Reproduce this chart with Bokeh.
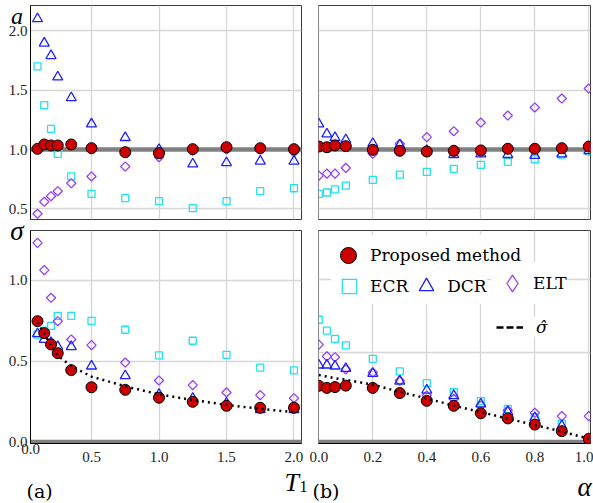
import math
from bokeh.plotting import figure
from bokeh.models import (Range1d, FixedTicker, Span, Label, Legend, LegendItem,
                          NumeralTickFormatter, GridBox)
from bokeh.embed import file_html
from bokeh.resources import INLINE
from bokeh.core.properties import value

# ---------------- data ----------------
T1 = [0.1, 0.15, 0.2, 0.25, 0.35, 0.5, 0.75, 1.0, 1.25, 1.5, 1.75, 2.0]
ALPHA = [0.0, 0.03, 0.06, 0.1, 0.2, 0.3, 0.4, 0.5, 0.6, 0.7, 0.8, 0.9, 1.0]

# (a) top: estimate of a vs T1
a_T_prop = [1.006, 1.042, 1.034, 1.034, 1.042, 1.011, 0.977, 0.969, 1.003, 1.019, 1.011, 1.003]
a_T_ecr = [1.699, 1.373, 1.174, 0.964, 0.773, 0.627, 0.590, 0.565, 0.506, 0.565, 0.649, 0.674]
a_T_dcr = [2.100, 1.895, 1.790, 1.610, 1.435, 1.215, 1.100, 1.000, 0.878, 0.888, 0.902, 0.902]
a_T_elt = [0.459, 0.560, 0.607, 0.649, 0.716, 0.773, 0.857, 0.935, 0.990, 1.000, 1.000, 0.977]

# (b) top: estimate of a vs alpha
a_A_prop = [1.025, 1.019, 1.034, 1.028, 0.997, 0.989, 0.983, 0.989, 0.992, 1.006, 1.006, 1.011, 1.025]
a_A_ecr = [0.627, 0.638, 0.664, 0.696, 0.745, 0.788, 0.812, 0.837, 0.871, 0.896, 0.918, 0.958, 0.985]
a_A_dcr = [1.215, 1.130, 1.100, 1.082, 1.050, 1.038, 0.990, 0.957, 0.962, 0.957, 0.950, 0.962, 0.990]
a_A_elt = [0.780, 0.797, 0.797, 0.845, 0.964, 1.048, 1.104, 1.154, 1.227, 1.286, 1.354, 1.429, 1.513]

# (a) bottom: sigma vs T1
s_T_prop = [0.748, 0.674, 0.604, 0.550, 0.445, 0.339, 0.323, 0.274, 0.249, 0.224, 0.212, 0.212]
s_T_ecr = [0.665, 0.690, 0.719, 0.781, 0.781, 0.750, 0.695, 0.536, 0.627, 0.540, 0.461, 0.443]
s_T_dcr = [0.670, 0.635, 0.615, 0.590, 0.590, 0.470, 0.410, 0.295, 0.270, 0.240, 0.200, 0.200]
s_T_elt = [1.233, 1.064, 0.893, 0.748, 0.635, 0.600, 0.492, 0.381, 0.352, 0.307, 0.290, 0.271]
s_T_hat = [0.740, 0.670, 0.600, 0.535, 0.470, 0.405, 0.345, 0.295, 0.260, 0.230, 0.205, 0.185]

# (b) bottom: sigma vs alpha
s_A_prop = [0.348, 0.335, 0.340, 0.349, 0.335, 0.303, 0.255, 0.224, 0.178, 0.146, 0.108, 0.067, 0.020]
s_A_ecr = [0.757, 0.690, 0.639, 0.598, 0.515, 0.437, 0.364, 0.308, 0.253, 0.205, 0.154, 0.113, 0.010]
s_A_dcr = [0.476, 0.476, 0.470, 0.455, 0.424, 0.377, 0.321, 0.287, 0.235, 0.186, 0.150, 0.100, 0.005]
s_A_elt = [0.603, 0.530, 0.525, 0.450, 0.430, 0.380, 0.288, 0.267, 0.226, 0.195, 0.181, 0.160, 0.160]
s_A_hat = [0.415, 0.405, 0.395, 0.385, 0.355, 0.310, 0.270, 0.225, 0.185, 0.145, 0.105, 0.065, 0.020]

TRUE_A = 1.0
SIGMA_FLOOR = 0.0

X_TICKS_T = [0.0, 0.5, 1.0, 1.5, 2.0]
X_TICKS_A = [0.0, 0.2, 0.4, 0.6, 0.8, 1.0]
Y_TICKS_A = [0.5, 1.0, 1.5, 2.0]
Y_TICKS_S = [0.0, 0.5, 1.0]
Y_GRID_S_RIGHT = [0.555, 1.005]

LEGEND_LABELS = ["Proposed method", "ECR", "DCR", "ELT", "σ̂"]

# ---------------- style ----------------
RED = "#cc0000"
CYAN = "#1fe2ee"
BLUE = "#1f1fff"
PURPLE = "#9640ff"
GRID = "#d6d6d6"
TICK_FONT = "Liberation Serif"
MATH_FONT = "Liberation Serif"
TEXT_FONT = "DejaVu Serif"

X_RANGE_T = (0.0481, 2.0556)
X_RANGE_A = (-0.0011, 1.0063)
Y_RANGE_TOP = (0.4108, 2.2121)
Y_RANGE_BOT = (-0.0093, 1.3096)


def make_fig(xr, yr, fw, fh, bl, br, bt, bb, show_x, show_y):
    p = figure(frame_width=fw, frame_height=fh,
               x_range=Range1d(*xr), y_range=Range1d(*yr),
               x_axis_location="below" if show_x else None,
               y_axis_location="left" if show_y else None,
               output_backend="svg", toolbar_location=None, tools="",
               min_border_left=bl, min_border_right=br,
               min_border_top=bt, min_border_bottom=bb,
               background_fill_color="white", border_fill_color="white")
    p.outline_line_color = "#3a3a3a"
    p.outline_line_width = 1
    for ax in p.axis:
        ax.major_tick_out = 0
        ax.major_tick_in = 0
        ax.minor_tick_out = 0
        ax.minor_tick_in = 0
        ax.axis_line_color = "black"
        ax.major_label_text_font = TICK_FONT
        ax.major_label_text_font_size = "15px"
        ax.major_label_text_color = "#222222"
        ax.formatter = NumeralTickFormatter(format="0.0")
    for g in p.grid:
        g.grid_line_color = GRID
        g.grid_line_width = 1.3
    return p


def add_markers(p, x, ecr, elt, dcr, prop):
    r_ecr = p.scatter(x, ecr, marker="square", size=7, fill_color=None,
                      line_color=CYAN, line_width=1.3)
    r_elt = p.scatter(x, elt, marker="square", angle=math.pi / 4, size=6.5,
                      fill_color=None, line_color=PURPLE, line_width=1.3)
    r_dcr = p.scatter(x, dcr, marker="triangle", size=10, fill_color=None,
                      line_color=BLUE, line_width=1.3)
    r_prop = p.scatter(x, prop, marker="circle", size=11, fill_color=RED,
                       line_color="black", line_width=1)
    return r_ecr, r_elt, r_dcr, r_prop


# ---------------- (a) top ----------------
p_tl = make_fig(X_RANGE_T, Y_RANGE_TOP, 271, 214, 30, 7, 5, 5, False, True)
p_tl.yaxis.ticker = FixedTicker(ticks=Y_TICKS_A)
p_tl.yaxis.major_label_standoff = 3
p_tl.xgrid.ticker = FixedTicker(ticks=X_TICKS_T)
p_tl.ygrid.ticker = FixedTicker(ticks=Y_TICKS_A)
p_tl.add_layout(Span(location=TRUE_A, dimension="width", line_color="#808080",
                     line_width=4.5, level="underlay"))
add_markers(p_tl, T1, a_T_ecr, a_T_elt, a_T_dcr, a_T_prop)

# ---------------- (b) top ----------------
p_tr = make_fig(X_RANGE_A, Y_RANGE_TOP, 272, 214, 10, 3, 5, 5, False, False)
p_tr.xgrid.ticker = FixedTicker(ticks=X_TICKS_A)
p_tr.ygrid.ticker = FixedTicker(ticks=Y_TICKS_A)
p_tr.add_layout(Span(location=TRUE_A, dimension="width", line_color="#808080",
                     line_width=4.5, level="underlay"))
add_markers(p_tr, ALPHA, a_A_ecr, a_A_elt, a_A_dcr, a_A_prop)

# ---------------- (a) bottom ----------------
p_bl = make_fig(X_RANGE_T, Y_RANGE_BOT, 271, 213, 30, 7, 6, 60, True, True)
p_bl.xaxis.ticker = FixedTicker(ticks=X_TICKS_T)
p_bl.yaxis.ticker = FixedTicker(ticks=Y_TICKS_S)
p_bl.xaxis.major_label_standoff = 8
p_bl.yaxis.major_label_standoff = 3
p_bl.xgrid.ticker = FixedTicker(ticks=X_TICKS_T)
p_bl.ygrid.ticker = FixedTicker(ticks=Y_TICKS_S)
p_bl.add_layout(Span(location=SIGMA_FLOOR, dimension="width", line_color="#808080",
                     line_width=4.5, level="underlay"))
add_markers(p_bl, T1, s_T_ecr, s_T_elt, s_T_dcr, s_T_prop)
p_bl.line(T1, s_T_hat, line_color="black", line_dash="2 4", line_width=2.5)

# ---------------- (b) bottom ----------------
p_br = make_fig(X_RANGE_A, Y_RANGE_BOT, 272, 213, 10, 3, 6, 60, True, False)
p_br.xaxis.ticker = FixedTicker(ticks=X_TICKS_A)
p_br.xaxis.major_label_standoff = 8
p_br.xgrid.ticker = FixedTicker(ticks=X_TICKS_A)
p_br.ygrid.ticker = FixedTicker(ticks=Y_GRID_S_RIGHT)
p_br.add_layout(Span(location=SIGMA_FLOOR, dimension="width", line_color="#808080",
                     line_width=4.5, level="underlay"))
r_ecr, r_elt, r_dcr, r_prop = add_markers(p_br, ALPHA, s_A_ecr, s_A_elt, s_A_dcr, s_A_prop)
p_br.line(ALPHA, s_A_hat, line_color="black", line_dash="2 4", line_width=2.5)
# legend-only renderers (hidden): diamond key for ELT, dashed key for sigma-hat
r_elt_key = p_br.scatter(ALPHA, s_A_elt, marker="diamond", size=10, fill_color=None,
                         line_color=PURPLE, line_width=1.3, visible=False)
r_hat_key = p_br.line(ALPHA, s_A_hat, line_color="black", line_dash="7 3",
                      line_width=2.5, visible=False)

leg_common = dict(border_line_color=None, background_fill_color="white",
                  background_fill_alpha=1.0, label_text_font=TEXT_FONT,
                  label_text_font_size="17px", label_text_color="black",
                  orientation="horizontal", margin=0, spacing=0, click_policy="none")

leg1 = Legend(items=[LegendItem(label=value(LEGEND_LABELS[0]), renderers=[r_prop])],
              location=(10, 168), glyph_width=40, glyph_height=40, label_height=40,
              label_standoff=2, padding=2, **leg_common)
leg2b = Legend(items=[LegendItem(label=value(LEGEND_LABELS[3]), renderers=[r_elt_key])],
               location=(173, 139), glyph_width=42, glyph_height=42, label_height=42,
               label_standoff=0, padding=0, **leg_common)
leg2 = Legend(items=[LegendItem(label=value(LEGEND_LABELS[1]), renderers=[r_ecr]),
                     LegendItem(label=value(LEGEND_LABELS[2]), renderers=[r_dcr])],
              location=(13, 139), glyph_width=36, glyph_height=36, label_height=36,
              label_standoff=3, padding=3, **leg_common)
leg3 = Legend(items=[LegendItem(label=value(LEGEND_LABELS[4]), renderers=[r_hat_key])],
              location=(178, 106), glyph_width=27, glyph_height=20, label_height=20,
              label_standoff=13, padding=2, label_text_font_style="italic",
              **leg_common)
for lg in (leg1, leg2b, leg2, leg3):
    p_br.add_layout(lg, "center")

# ---------------- transparent overlay for texts outside the plot frames ----------------
W, H = 593, 503
ov = figure(width=W, height=H, x_range=Range1d(0, W), y_range=Range1d(0, H),
            x_axis_location=None, y_axis_location=None,
            min_border_left=0, min_border_right=0, min_border_top=0, min_border_bottom=0,
            output_backend="svg", toolbar_location=None, tools="",
            background_fill_color=None, border_fill_color=None)
ov.outline_line_color = None
ov.grid.visible = False
if "frame_align" in ov.properties():
    ov.frame_align = False


def label(text, x, y, font, size, italic=False, align="left", baseline="alphabetic",
          color="black"):
    ov.add_layout(Label(x=x, y=y, x_units="screen", y_units="screen", text=text,
                        text_font=font, text_font_style="italic" if italic else "normal",
                        text_font_size=size, text_align=align,
                        text_baseline=baseline, text_color=color))


label("a", 16.5, 488, MATH_FONT, "24px", italic=True, align="center")
label("σ", 16.5, 273, MATH_FONT, "27px", italic=True, align="center")
label("0.0", 30, 60, TICK_FONT, "15px", align="center", baseline="top", color="#222222")
label("T", 284, 21, MATH_FONT, "26px", italic=True)
label("1", 299, 17, MATH_FONT, "16px")
label("(a)", 26, 13, TEXT_FONT, "19px")
label("(b)", 312, 13, TEXT_FONT, "19px")
label("α", 577, 17, MATH_FONT, "27px", italic=True)

layout = GridBox(children=[(p_tl, 0, 0), (p_tr, 0, 1), (p_bl, 1, 0), (p_br, 1, 1),
                           (ov, 0, 0, 2, 2)], spacing=0)

open("out.html", "w").write(file_html(layout, INLINE))
